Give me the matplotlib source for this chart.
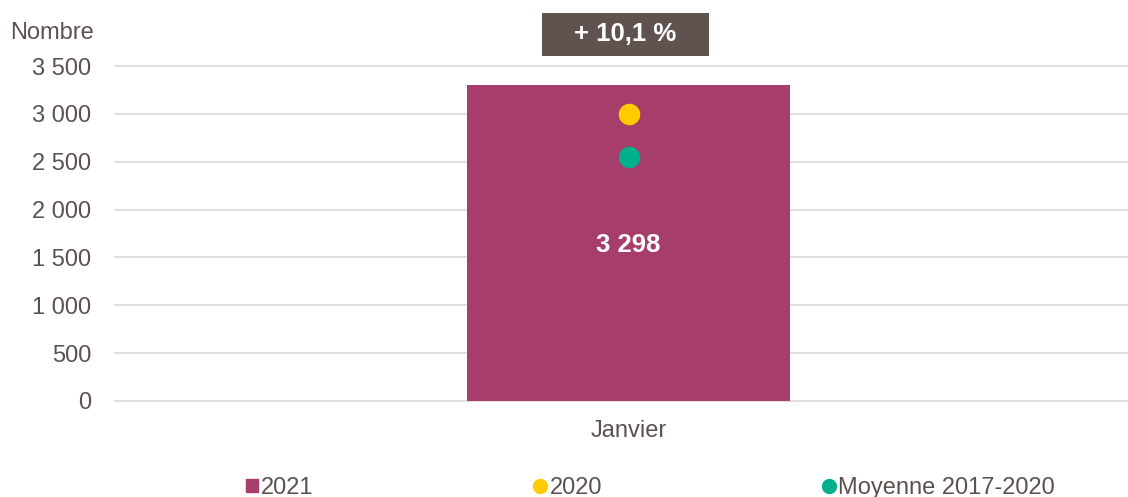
import matplotlib.pyplot as plt
from matplotlib.lines import Line2D
from matplotlib.patches import Patch, Rectangle

months = ["Janvier"]
val_2021 = [3298]
val_2020 = [2996]
val_moy = [2550]
evolution = "+ 10,1 %"
yticks = [0, 500, 1000, 1500, 2000, 2500, 3000, 3500]

txt = '#5b514e'
plt.rcParams['font.family'] = ['Liberation Sans', 'DejaVu Sans']

fig = plt.figure(figsize=(11.28, 4.97), dpi=100)
ax = fig.add_axes([0.102, 0.1932, 0.898, 0.674])

x = list(range(len(months)))
ax.bar(x, val_2021, width=0.319, color='#a63d6a', zorder=2)
ax.plot(x, val_2020, 'o', color='#ffcc00', ms=14.5, zorder=3)
ax.plot(x, val_moy, 'o', color='#00b08c', ms=14.5, zorder=3)

for xi, v in zip(x, val_2021):
    ax.text(xi, v / 2 - 20, f"{v:,}".replace(",", " "), ha='center', va='center',
            color='white', fontsize=18.5, fontweight='bold', zorder=4)

ax.set_xlim(-0.507, 0.493)
ax.set_ylim(0, 3500)
ax.set_yticks(yticks)
ax.set_yticklabels([f"{v:,}".replace(",", " ") for v in yticks])
ax.set_xticks(x)
ax.set_xticklabels(months)
ax.tick_params(length=0, labelsize=17, colors=txt)
ax.tick_params(axis='y', pad=17)
ax.tick_params(axis='x', pad=14)
for s in ax.spines.values():
    s.set_visible(False)
ax.yaxis.grid(True, color='#d9d9d9', lw=1.2, zorder=0)
for gl in ax.get_ygridlines():
    gl.set_clip_on(False)
ax.set_axisbelow(True)

fig.text(0.009, 0.933, "Nombre", fontsize=17, color=txt, va='center', ha='left')

# evolution box
fig.patches.append(Rectangle((0.4805, 0.8873), 0.148, 0.0865, transform=fig.transFigure,
                             fc='#5f524f', ec='none'))
fig.text(0.5545, 0.9306, evolution, fontsize=18.5, color='white', fontweight='bold',
         ha='center', va='center')

handles = [Patch(color='#a63d6a'),
           Line2D([], [], marker='o', ls='', color='#ffcc00', ms=10),
           Line2D([], [], marker='o', ls='', color='#00b08c', ms=10)]
labels = ["2021", "2020", "Moyenne 2017-2020"]
fig.legend(handles, labels, ncol=3, loc='center left', bbox_to_anchor=(0.2075, 0.018),
           frameon=False, fontsize=17, labelcolor=txt, handlelength=0.5,
           handleheight=0.5, handletextpad=0.15, columnspacing=9.35, borderpad=0)

fig.savefig('out.png', dpi=100)
